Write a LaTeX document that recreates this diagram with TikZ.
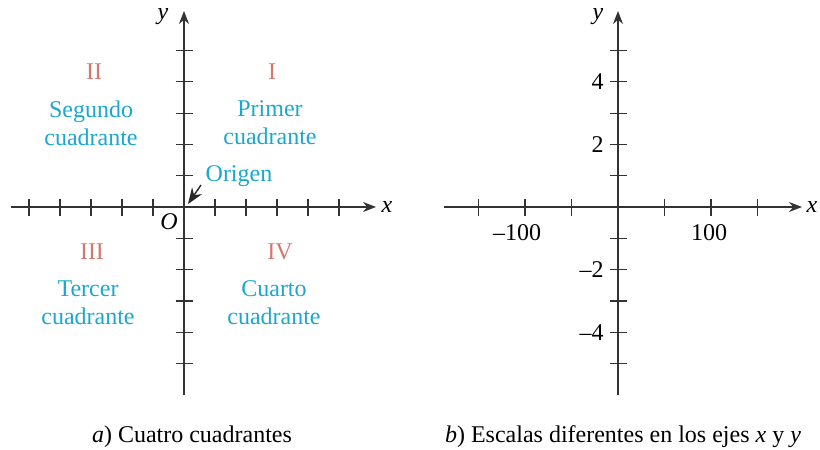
\documentclass[tikz,border=0pt]{standalone}
\usepackage{fontspec}
\setmainfont{Liberation Serif}
\usepackage{xcolor}
\usetikzlibrary{calc, positioning, arrows.meta}
\definecolor{quadcyan}{HTML}{1BA8CC}
\definecolor{quadred}{HTML}{D4776C}
\tikzset{
    axis/.style={draw=black!80, line width=0.6pt, -{Stealth[length=6.5pt,width=5pt]}},
    tick/.style={draw=black!80, line width=0.6pt},
    numeral/.style={text=quadred, font=\fontsize{12}{14}\selectfont},
    quadname/.style={text=quadcyan, align=center, font=\fontsize{12}{14}\selectfont},
    ticklabel/.style={font=\fontsize{12}{14}\selectfont, inner sep=0pt},
    caption/.style={font=\fontsize{12}{14}\selectfont}
}

\begin{document}
\begin{tikzpicture}[x=0.5pt, y=-0.5pt]
    \useasboundingbox (0,0) rectangle (820,450);

    % Left axes
    \coordinate (O1) at (184,207);
    \coordinate (xL1) at (11,207);
    \coordinate (xR1) at (376,207);
    \coordinate (yB1) at (184,395);
    \coordinate (yT1) at (184,11);
    \foreach \k in {-5,-4,-3,-2,-1,1,2,3,4,5} {
        \draw[tick] ($(O1)+(\k*31,-8.5)$) -- ($(O1)+(\k*31,8.5)$);
        \draw[tick] ($(O1)+(-8.5,\k*31.3)$) -- ($(O1)+(8.5,\k*31.3)$);
    }
    \draw[axis] (xL1) -- (xR1);
    \draw[axis] (yB1) -- (yT1);
    \node[font=\fontsize{12}{14}\selectfont\itshape] (xlab1) at (387,207) {x};
    \node[font=\fontsize{12}{14}\selectfont\itshape] (ylab1) at (163,17) {y};
    \node[font=\fontsize{12}{14}\selectfont\itshape] (orig) at (169,222) {O};

    % Quadrants
    \node[numeral] (QII) at (94,72) {II};
    \node[numeral] (QI) at (272,72) {I};
    \node[numeral] (QIII) at (92,252) {III};
    \node[numeral] (QIV) at (280,252) {IV};
    \node[quadname] (segundo) at (91,123) {Segundo\\cuadrante};
    \node[quadname] (primer) at (270,123) {Primer\\cuadrante};
    \node[quadname] (tercer) at (88,303) {Tercer\\cuadrante};
    \node[quadname] (cuarto) at (274,303) {Cuarto\\cuadrante};
    \node[quadname, inner sep=1pt] (origen) at (239,176) {Origen};
    \coordinate (arrS) at (201,185);
    \coordinate (arrE) at (188,204);
    \draw[draw=black!85, line width=0.7pt, -{Stealth[length=8pt,width=6pt]}] (arrS) -- (arrE);

    % Right axes
    \coordinate (O2) at (618,207);
    \coordinate (xL2) at (444,207);
    \coordinate (xR2) at (802,207);
    \coordinate (yB2) at (618,395);
    \coordinate (yT2) at (618,11);
    \foreach \k in {-3,-2,-1,1,2,3} {
        \draw[tick] ($(O2)+(\k*46.5,-8.5)$) -- ($(O2)+(\k*46.5,8.5)$);
    }
    \foreach \k in {-5,-4,-3,-2,-1,1,2,3,4,5} {
        \draw[tick] ($(O2)+(-8.5,\k*31.3)$) -- ($(O2)+(8.5,\k*31.3)$);
    }
    \draw[axis] (xL2) -- (xR2);
    \draw[axis] (yB2) -- (yT2);
    \node[font=\fontsize{12}{14}\selectfont\itshape] (xlab2) at (812,207) {x};
    \node[font=\fontsize{12}{14}\selectfont\itshape] (ylab2) at (598,17) {y};
    \node[ticklabel, anchor=east] (y4) at (604,82) {4};
    \node[ticklabel, anchor=east] (y2) at (604,145) {2};
    \node[ticklabel, anchor=east] (ym2) at (604,270) {\textendash2};
    \node[ticklabel, anchor=east] (ym4) at (604,333) {\textendash4};
    \node[ticklabel] (xm100) at (517,233) {\textendash100};
    \node[ticklabel] (x100) at (709,233) {100};

    % Captions
    \node[caption] (capA) at (192,437) {\textit{a}) Cuatro cuadrantes};
    \node[caption] (capB) at (623,437) {\textit{b}) Escalas diferentes en los ejes \textit{x} y \textit{y}};
\end{tikzpicture}
\end{document}
